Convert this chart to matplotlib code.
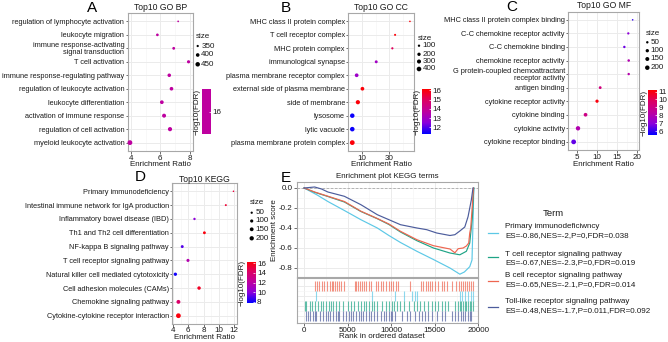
import numpy as np
import matplotlib
matplotlib.use('Agg')
import matplotlib.pyplot as plt
from matplotlib.colors import LinearSegmentedColormap, Normalize
from matplotlib.ticker import NullFormatter

plt.rcParams['font.family'] = ['Liberation Sans', 'DejaVu Sans']
plt.rcParams['axes.unicode_minus'] = False

# ---------------- data ----------------
a_terms = ['regulation of lymphocyte activation', 'leukocyte migration',
           'immune response-activating\nsignal transduction', 'T cell activation',
           'immune response-regulating pathway', 'regulation of leukocyte activation',
           'leukocyte differentiation', 'activation of immune response',
           'regulation of cell activation', 'myeloid leukocyte activation']
a_ratio = [7.2, 5.8, 6.9, 7.9, 6.6, 6.75, 6.1, 6.25, 6.65, 3.95]
a_size = [340, 362, 366, 380, 395, 400, 405, 418, 430, 470]
a_fdr = [16, 16, 16, 16, 16, 16, 16, 16, 16, 16]
a_size_breaks = [350, 400, 450]
a_xticks = [4, 6, 8]

b_terms = ['MHC class II protein complex', 'T cell receptor complex', 'MHC protein complex',
           'immunological synapse', 'plasma membrane receptor complex',
           'external side of plasma membrane', 'side of membrane', 'lysosome',
           'lytic vacuole', 'plasma membrane protein complex']
b_ratio = [68, 37.6, 33.7, 17.7, 8.1, 10.2, 8.5, 6.8, 6.8, 6.8]
b_size = [60, 80, 90, 150, 250, 250, 330, 380, 390, 430]
b_fdr = [16, 16, 15, 13, 12.9, 16, 16, 11.4, 11.4, 16]
b_size_breaks = [100, 200, 300, 400]
b_xticks = [10, 30]

c_terms = ['MHC class II protein complex binding', 'C-C chemokine receptor activity',
           'C-C chemokine binding', 'chemokine receptor activity',
           'G protein-coupled chemoattractant\nreceptor activity', 'antigen binding',
           'cytokine receptor activity', 'cytokine binding', 'cytokine activity',
           'cytokine receptor binding']
c_ratio = [19.0, 17.9, 16.9, 18.0, 18.0, 10.8, 10.0, 7.1, 5.2, 4.1]
c_size = [25, 45, 50, 55, 50, 70, 95, 130, 190, 230]
c_fdr = [6.0, 7.0, 6.6, 8.0, 8.1, 9.2, 11.0, 9.0, 8.0, 6.5]
c_size_breaks = [50, 100, 150, 200]
c_xticks = [5, 10, 15, 20]

d_terms = ['Primary immunodeficiency', 'Intestinal immune network for IgA production',
           'Inflammatory bowel disease (IBD)', 'Th1 and Th2 cell differentiation',
           'NF-kappa B signaling pathway', 'T cell receptor signaling pathway',
           'Natural killer cell mediated cytotoxicity', 'Cell adhesion molecules (CAMs)',
           'Chemokine signaling pathway', 'Cytokine-cytokine receptor interaction']
d_ratio = [11.9, 10.9, 6.8, 8.1, 5.2, 5.95, 4.3, 7.4, 4.7, 4.7]
d_size = [30, 40, 55, 80, 85, 95, 110, 120, 160, 250]
d_fdr = [15.0, 15.2, 10.0, 16.0, 9.0, 11.5, 8.0, 15.5, 14.0, 16.0]
d_size_breaks = [50, 100, 150, 200]
d_xticks = [4, 6, 8, 10, 12]

# GSEA running enrichment score curves
pi_x = [0, 1500, 2727, 4624, 6520, 8406, 9735, 11065, 12950, 14848, 16744, 17880, 18400, 19017, 19278, 19420, 19480]
pi_y = [0, -0.07, -0.135, -0.225, -0.317, -0.40, -0.475, -0.545, -0.633, -0.715, -0.80, -0.862, -0.84, -0.787, -0.72, -0.25, 0.0]
tcr_x = [0, 1215, 2727, 4624, 6520, 8406, 9735, 11065, 12950, 14848, 16744, 17880, 18630, 19017, 19312, 19480]
tcr_y = [0, -0.043, -0.085, -0.14, -0.235, -0.307, -0.365, -0.44, -0.527, -0.60, -0.65, -0.668, -0.633, -0.55, -0.30, 0.0]
bcr_x = [0, 1215, 2727, 4624, 6520, 8406, 9735, 11065, 12950, 14848, 16744, 17312, 17688, 18255, 18630, 18900, 19017, 19130, 19278, 19450]
bcr_y = [0, -0.04, -0.082, -0.135, -0.232, -0.305, -0.36, -0.433, -0.517, -0.577, -0.61, -0.648, -0.607, -0.60, -0.58, -0.55, -0.45, -0.40, -0.22, 0.0]
tlr_x = [0, 600, 1215, 2000, 2727, 4624, 6520, 8406, 9735, 11065, 12950, 14086, 15222, 16744, 17312, 17880, 18448, 18823, 19198, 19391]
tlr_y = [0, 0.005, 0.01, -0.01, -0.04, -0.083, -0.167, -0.267, -0.317, -0.367, -0.40, -0.417, -0.45, -0.475, -0.467, -0.43, -0.39, -0.287, -0.12, 0.0]

bcr_hits = [1215, 1480, 1707, 2048, 2276, 2617, 2919, 3147, 3336, 3563, 3790, 4056, 4283, 4624, 5798, 5987,
            6176, 6403, 6631, 6896, 7161, 7464, 7691, 8221, 8448, 8827, 9092, 9433, 9736, 10001, 10228,
            10569, 10758, 12198, 13447, 13675, 13978, 14205, 14432, 14735, 15038, 15417, 15795, 16022,
            16401, 16931, 17424, 17765, 17992, 18295, 18522, 18750, 18977, 19204, 19393]
pi_hits = [1400, 7840, 10490, 11440, 12390, 12690, 12990, 17880, 18140, 18450, 18830, 19130, 19390]
tcr_hits = [50, 193, 647, 950, 1215, 1594, 1973, 2162, 2541, 2844, 3109, 3298, 3677, 4056, 4434, 5002, 5381,
            5760, 6138, 6517, 6896, 7161, 7464, 7767, 8032, 8411, 8979, 9357, 9736, 10115, 10304, 10683,
            11061, 11440, 12008, 12576, 12955, 13334, 13712, 14280, 14659, 15038, 15417, 15795, 16174,
            16553, 17310, 17689, 17878, 18067, 18257, 18446, 18635, 18825, 19014, 19204, 19393]
tlr_hits = [268, 458, 647, 1026, 1215, 1405, 1783, 2162, 2541, 2730, 2919, 3298, 3677, 3866, 4056, 4434,
            4813, 5192, 5381, 5570, 5949, 6328, 6517, 6706, 7085, 7464, 7653, 8032, 8411, 8789, 9168,
            9357, 9736, 9925, 10115, 10493, 11251, 11819, 12198, 12766, 13144, 13523, 13902, 14280,
            14659, 15227, 15795, 16174, 16931, 17310, 17689, 18067, 18257, 18446, 18825, 19014, 19204]

e_names = ['Primary immunodeficiwncy\nES=-0.86,NES=-2,P=0,FDR=0.038',
           'T cell receptor signaling pathway\nES=-0.67,NES=-2.3,P=0,FDR=0.019',
           'B cell receptor signaling pathway\nES=-0.65,NES=-2.1,P=0,FDR=0.014',
           'Toll-like receptor signaling pathway\nES=-0.48,NES=-1.7,P=0.011,FDR=0.092']
e_colors = ['#5CC8E6', '#1FA486', '#EE6650', '#4C5C9C']

# ---------------- figure ----------------
W, H = 668, 342
fig = plt.figure(figsize=(W / 100, H / 100), dpi=100)
FS = 5.8
FSY = 5.35
TXT = '#1a1a1a'


def rect(x0, y0, x1, y1):
    return [x0 / W, 1 - y1 / H, (x1 - x0) / W, (y1 - y0) / H]


ov = fig.add_axes([0, 0, 1, 1], zorder=10)
ov.set_xlim(0, W)
ov.set_ylim(H, 0)
ov.axis('off')

cmap = LinearSegmentedColormap.from_list('bp', ['#0000FF', '#8C00DC', '#BE00A0', '#DC0064', '#FF0000'])


def size_to_s(v, dom, drange=(1.0, 4.8)):
    lo, hi = dom
    t = np.clip((np.asarray(v, float) - lo) / (hi - lo), 0, 1)
    d = drange[0] + np.sqrt(t) * (drange[1] - drange[0])
    return (d * 0.72) ** 2


def style(ax, pad=1):
    for s in ax.spines.values():
        s.set_color('#A8A8A8')
        s.set_linewidth(0.8)
    ax.tick_params(axis='both', which='major', length=2, width=0.5, color='#333333',
                   labelsize=FS, pad=pad, labelcolor=TXT)
    ax.tick_params(which='minor', length=0)
    ax.set_axisbelow(True)


def dotpanel(box, letter_xy, letter, title, title_y, terms, ratio, size, fdr, xlim, xticks, xminor,
             size_dom, size_breaks, leg_x, leg_title_y, leg_ys, cb_box, cb_lim, cb_ticks,
             cb_label_x, xlabel_y, logx=False, solid=False, xpad=1):
    ax = fig.add_axes(rect(*box))
    n = len(terms)
    ypos = np.arange(n)[::-1]
    if logx:
        ax.set_xscale('log')
    ax.set_xlim(*xlim)
    ax.set_ylim(-0.6, n - 0.4)
    ax.set_xticks(xticks)
    ax.set_xticklabels([str(t) for t in xticks])
    ax.set_xticks(xminor, minor=True)
    ax.xaxis.set_minor_formatter(NullFormatter())
    ax.set_yticks(ypos)
    ax.set_yticklabels(terms, linespacing=1.0)
    style(ax)
    ax.tick_params(axis='y', labelsize=FSY, length=1.6, pad=0.8)
    ax.tick_params(axis='x', pad=xpad)
    ax.grid(True, which='major', color='#EBEBEB', lw=0.7)
    ax.grid(True, which='minor', axis='x', color='#F4F4F4', lw=0.4)
    norm = Normalize(*cb_lim)
    ax.scatter(ratio, ypos, s=size_to_s(size, size_dom), c=cmap(norm(np.asarray(fdr, float))),
               edgecolors='none', zorder=3, clip_on=False)
    cx = (box[0] + box[2]) / 2
    ov.text(cx, title_y, title, ha='center', va='center', fontsize=6.2, color=TXT)
    ov.text(cx, xlabel_y, 'Enrichment Ratio', ha='center', va='center', fontsize=FS, color=TXT)
    ov.text(letter_xy[0], letter_xy[1], letter, ha='center', va='center', fontsize=11, color='black')
    # size legend
    ov.text(leg_x - 1.5, leg_title_y, 'size', ha='left', va='center', fontsize=FS, color=TXT)
    for b, yy in zip(size_breaks, leg_ys):
        ov.scatter([leg_x], [yy], s=size_to_s(b, size_dom), c='black', edgecolors='none')
        ov.text(leg_x + 3.5, yy, str(b), ha='left', va='center', fontsize=FS, color=TXT)
    # colour bar
    cax = fig.add_axes(rect(*cb_box))
    if solid:
        cax.imshow(np.zeros((2, 1)), aspect='auto', cmap=LinearSegmentedColormap.from_list(
            's', [cmap(0.5), cmap(0.5)]), extent=[0, 1, cb_lim[0], cb_lim[1]], origin='lower')
    else:
        cax.imshow(np.linspace(cb_lim[0], cb_lim[1], 256)[:, None], aspect='auto', cmap=cmap,
                   norm=norm, extent=[0, 1, cb_lim[0], cb_lim[1]], origin='lower')
    cax.set_xticks([])
    cax.yaxis.tick_right()
    cax.set_yticks(cb_ticks)
    cax.set_yticklabels([str(t) for t in cb_ticks])
    cax.tick_params(axis='y', length=1.5, width=0.5, color='white', direction='in', labelsize=FS,
                    pad=1.5, labelcolor=TXT)
    for s in cax.spines.values():
        s.set_visible(False)
    ov.text(cb_label_x, (cb_box[1] + cb_box[3]) / 2, '\u2212log10(FDR)', rotation=90, ha='center',
            va='center', fontsize=FS, color=TXT)
    return ax


dotpanel((127.7, 13.3, 193.3, 150.7), (92, 8.5), 'A', 'Top10 GO BP', 7.0, a_terms, a_ratio, a_size,
         a_fdr, (3.8, 8.22), a_xticks, [5, 7], (335, 470), a_size_breaks, 197.7, 37, [46, 55, 64.3],
         (202.3, 89, 210.7, 134), (15, 17), [16], 197, 164.5, solid=True)

dotpanel((348.3, 13.3, 414.3, 150.7), (286, 8.3), 'B', 'Top10 GO CC', 7.0, b_terms, b_ratio, b_size,
         b_fdr, (5.9, 81), b_xticks, [5.8, 17.3, 52], (50, 440), b_size_breaks, 419, 38.7,
         [45.7, 54.3, 61.5, 69], (422.3, 89.3, 430.7, 134), (11.3, 16.1), [12, 13, 14, 15, 16],
         417.3, 164.5, logx=True)

dotpanel((568.3, 11.7, 639, 150), (511.7, 6.7), 'C', 'Top10 GO MF', 5.8, c_terms, c_ratio, c_size,
         c_fdr, (2.75, 20.6), c_xticks, [7.5, 12.5, 17.5], (20, 235), c_size_breaks, 647.3, 33.3,
         [42.3, 50.7, 59, 67.7], (647.7, 90, 656.7, 135), (5.5, 11.2), [6, 7, 8, 9, 10, 11],
         644, 164)

dotpanel((172.3, 183, 237.3, 324), (140, 176.7), 'D', 'Top10 KEGG', 179.0, d_terms, d_ratio, d_size,
         d_fdr, (3.9, 12.4), d_xticks, [5, 7, 9, 11], (25, 255), d_size_breaks, 251.7, 202.7,
         [212.7, 221, 229.3, 238.3], (246.7, 261.7, 255, 303.3), (7.7, 16.3), [8, 10, 12, 14, 16],
         242.3, 337.3, xpad=0.3)

# ---------------- panel E ----------------
XL = (-850, 19800)
axm = fig.add_axes(rect(296.7, 182, 478.3, 277))
axm.set_xlim(*XL)
axm.set_ylim(-0.89, 0.06)
axm.set_xticks([0, 5000, 10000, 15000, 20000])
axm.set_xticks([2500, 7500, 12500, 17500], minor=True)
axm.set_yticks([0.0, -0.2, -0.4, -0.6, -0.8])
axm.set_yticklabels(['0.0', '-0.2', '-0.4', '-0.6', '-0.8'])
axm.set_yticks([-0.1, -0.3, -0.5, -0.7], minor=True)
style(axm)
axm.tick_params(axis='x', which='both', labelbottom=False, length=0)
axm.grid(True, which='major', color='#EBEBEB', lw=0.7)
axm.grid(True, which='minor', color='#F4F4F4', lw=0.4)
axm.axhline(0, color='#AAAAAA', lw=0.6, ls=(0, (3, 2)))
curves = [(pi_x, pi_y), (tcr_x, tcr_y), (bcr_x, bcr_y), (tlr_x, tlr_y)]
for (cx_, cy_), col in zip(curves, e_colors):
    axm.plot(cx_, cy_, color=col, lw=0.85)
ov.text(387.5, 176.5, 'Enrichment plot KEGG terms', ha='center', va='center', fontsize=FS, color=TXT)
ov.text(275, 230, 'Enrichment score', rotation=90, ha='center', va='center', fontsize=FS, color=TXT)
ov.text(286, 178.5, 'E', ha='center', va='center', fontsize=11, color='black')

axl = fig.add_axes(rect(296.7, 278.3, 478.3, 322.7))
axl.set_xlim(*XL)
axl.set_ylim(0, 4.45)
axl.set_xticks([0, 5000, 10000, 15000, 20000])
axl.set_xticklabels(['0', '5000', '10000', '15000', '20000'])
axl.set_xticks([2500, 7500, 12500, 17500], minor=True)
axl.set_yticks([0.67, 1.67, 2.67, 3.67])
axl.set_yticks([1.17, 2.17, 3.17], minor=True)
style(axl)
axl.tick_params(axis='y', which='both', labelleft=False, length=0)
axl.grid(True, which='major', color='#EBEBEB', lw=0.7)
axl.grid(True, which='minor', color='#F4F4F4', lw=0.4)
rows = [(bcr_hits, e_colors[2], 3.17), (pi_hits, e_colors[0], 2.17),
        (tcr_hits, e_colors[1], 1.17), (tlr_hits, e_colors[3], 0.17)]
for hits, col, y0 in rows:
    axl.vlines(hits, y0, y0 + 1.0, colors=col, lw=0.8, alpha=0.7)
ov.text(381.7, 336.5, 'Rank in ordered dataset', ha='center', va='center', fontsize=FS, color=TXT)

# legend of panel E
ov.text(553, 213, 'Term', ha='center', va='center', fontsize=6.8, color=TXT)
leg_line_y = [232.7, 256.5, 281.3, 306.7]
leg_txt_y = [230.7, 258.5, 280.0, 306.0]
for name, col, ly, ty in zip(e_names, e_colors, leg_line_y, leg_txt_y):
    ov.plot([488.3, 498.3], [ly, ly], color=col, lw=0.9)
    ov.text(505, ty, name, ha='left', va='center', fontsize=FS, color=TXT, linespacing=1.35)

fig.savefig('out.png', dpi=100)
